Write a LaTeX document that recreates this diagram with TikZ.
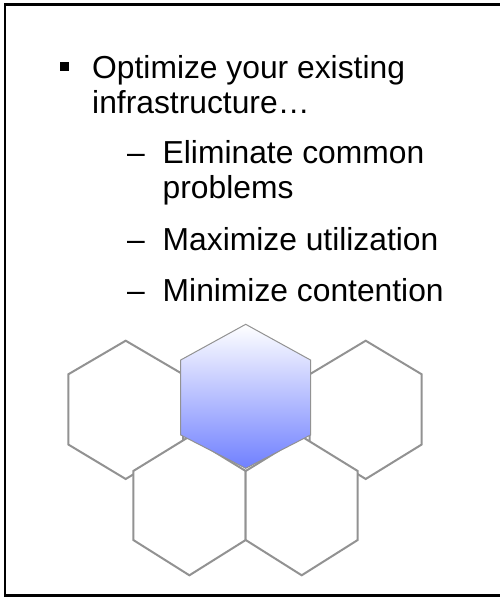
\documentclass[tikz,border=0pt]{standalone}
\usepackage{fontspec}
\setmainfont{Liberation Sans}
\definecolor{hexline}{RGB}{146,146,146}
\definecolor{hexblue}{RGB}{112,128,255}
\definecolor{hexmid}{RGB}{200,206,255}
\begin{document}
\begin{tikzpicture}[x=1pt,y=-1pt,
  txt/.style={anchor=base west,inner sep=0pt,font=\fontsize{31.8}{35}\selectfont},
  hexcell/.style={draw=hexline,line width=2pt,fill=white,line join=miter},
  hexmain/.style={draw=hexline,line width=1pt,top color=white,middle color=hexmid,bottom color=hexblue,line join=miter},
  framestyle/.style={draw=black,line width=2.6pt,line join=miter}]
\useasboundingbox (0,0) rectangle (500,597);
% frame (open on the right)
\draw[framestyle] (500,4.5) -- (5,4.5) -- (5,595.3) -- (500,595.3);
% bullet text
\fill (60,61.7) rectangle (69,70.7);
\node[txt] (l1) at (92,78) {Optimize your existing};
\node[txt] (l2) at (92,113) {infrastructure…};
\node[txt] (d1) at (127,163.5) {–};
\node[txt] (s1) at (162.5,163.5) {Eliminate common};
\node[txt] (s1b) at (162.5,198.5) {problems};
\node[txt] (d2) at (127,250) {–};
\node[txt] (s2) at (162.5,250) {Maximize utilization};
\node[txt] (d3) at (127,301.5) {–};
\node[txt] (s3) at (162.5,301.5) {Minimize contention};
% hexagons
\draw[hexcell] (125.7,340.7) -- (68.3,374.3) -- (68.3,444.5) -- (125.7,479) -- (183,444.5) -- (183,374.3) -- cycle;
\draw[hexcell] (365.7,340.7) -- (421.7,374.3) -- (421.7,444.5) -- (365.7,479) -- (309.7,444.5) -- (309.7,374.3) -- cycle;
\draw[hexcell] (189.4,436.5) -- (133.3,471) -- (133.3,540) -- (189.4,575.3) -- (245.7,540) -- (245.7,471) -- cycle;
\draw[hexcell] (301.7,436.5) -- (245.7,471) -- (245.7,540) -- (301.7,575.3) -- (357.7,540) -- (357.7,471) -- cycle;
\draw[hexmain] (245.7,324.3) -- (180.7,360) -- (180.7,435) -- (245.7,468.3) -- (310.5,435) -- (310.5,360) -- cycle;
\end{tikzpicture}
\end{document}
